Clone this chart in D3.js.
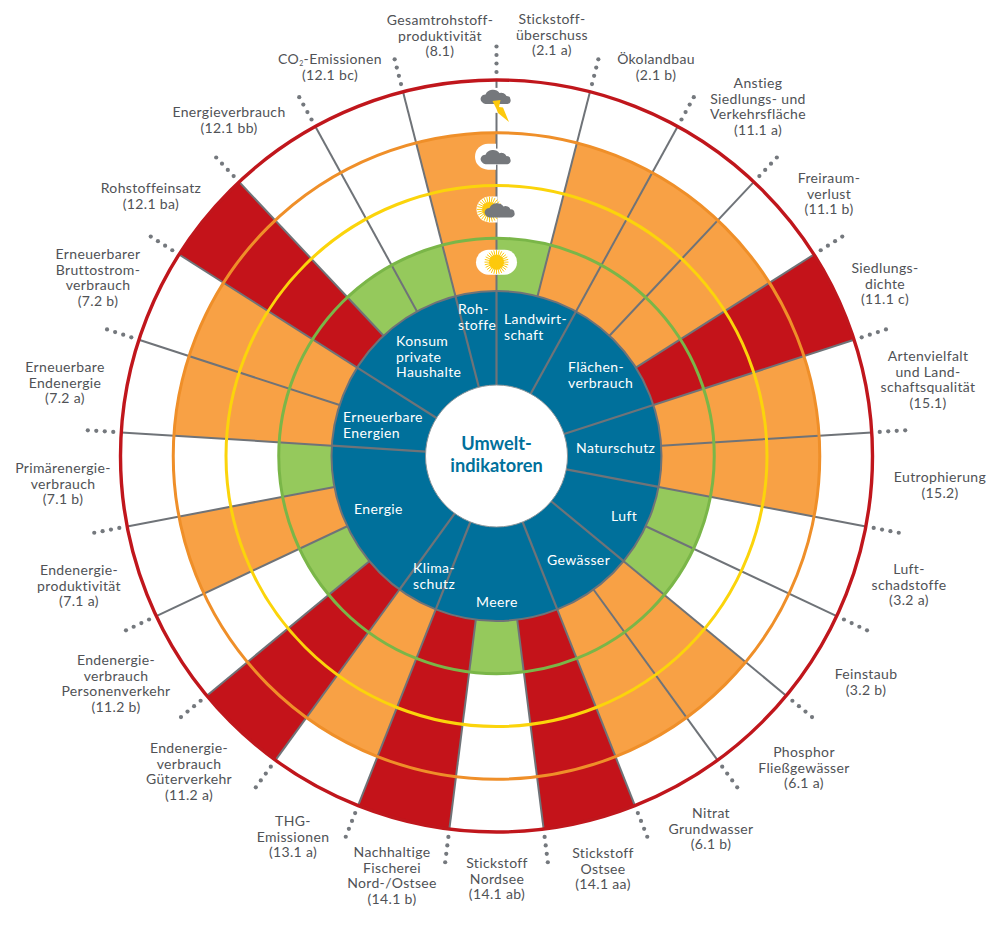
<!DOCTYPE html>
<html lang="de">
<head>
<meta charset="utf-8">
<title>Umweltindikatoren</title>
<script src="https://cdn.jsdelivr.net/npm/d3@7"></script>
<style>
html,body{margin:0;padding:0;background:#fff}
svg{display:block}
text{font-family:Lato,"Noto Sans",sans-serif}
</style>
</head>
<body>
<div id="chart"></div>
<script>
// ---------- data ----------
const indicators = ["8.1","2.1 a","2.1 b","11.1 a","11.1 b","11.1 c","15.1","15.2","3.2 a","3.2 b","6.1 a","6.1 b","14.1 aa","14.1 ab","14.1 b","13.1 a","11.2 a","11.2 b","7.1 a","7.1 b","7.2 a","7.2 b","12.1 ba","12.1 bb","12.1 bc"];
// weather status: 1 sun, 2 sun+cloud, 3 cloud, 4 thunderstorm
const statuses   = [3,1,3,3,3,4,3,3,1,1,3,3,4,1,4,3,4,1,3,1,3,3,4,1,1];
const indicatorLabels = [
  ["Gesamtrohstoff-","produktivität","(8.1)"],
  ["Stickstoff-","überschuss","(2.1 a)"],
  ["Ökolandbau","(2.1 b)"],
  ["Anstieg","Siedlungs- und","Verkehrsfläche","(11.1 a)"],
  ["Freiraum-","verlust","(11.1 b)"],
  ["Siedlungs-","dichte","(11.1 c)"],
  ["Artenvielfalt","und Land-","schaftsqualität","(15.1)"],
  ["Eutrophierung","(15.2)"],
  ["Luft-","schadstoffe","(3.2 a)"],
  ["Feinstaub","(3.2 b)"],
  ["Phosphor","Fließgewässer","(6.1 a)"],
  ["Nitrat","Grundwasser","(6.1 b)"],
  ["Stickstoff","Ostsee","(14.1 aa)"],
  ["Stickstoff","Nordsee","(14.1 ab)"],
  ["Nachhaltige","Fischerei","Nord-/Ostsee","(14.1 b)"],
  ["THG-","Emissionen","(13.1 a)"],
  ["Endenergie-","verbrauch","Güterverkehr","(11.2 a)"],
  ["Endenergie-","verbrauch","Personenverkehr","(11.2 b)"],
  ["Endenergie-","produktivität","(7.1 a)"],
  ["Primärenergie-","verbrauch","(7.1 b)"],
  ["Erneuerbare","Endenergie","(7.2 a)"],
  ["Erneuerbarer","Bruttostrom-","verbrauch","(7.2 b)"],
  ["Rohstoffeinsatz","(12.1 ba)"],
  ["Energieverbrauch","(12.1 bb)"],
  ["CO₂-Emissionen","(12.1 bc)"]
];
const groups      = ["Rohstoffe","Landwirtschaft","Flächenverbrauch","Naturschutz","Luft","Gewässer","Meere","Klimaschutz","Energie","Erneuerbare Energien","Konsum private Haushalte"];
const groupSizes  = [1,2,3,2,2,2,3,1,4,2,3];
const groupLabels = [["Roh-","stoffe"],["Landwirt-","schaft"],["Flächen-","verbrauch"],["Naturschutz"],["Luft"],["Gewässer"],["Meere"],["Klima-","schutz"],["Energie"],["Erneuerbare","Energien"],["Konsum","private","Haushalte"]];
const centerLabel = ["Umwelt-","indikatoren"];

// ---------- layout (text placement only) ----------
const W = 993, H = 930, CX = 496.5, CY = 456;
const labelLayout = [[440,20],[552,19],[656,59],[758,83],[829,178],[885,268],[928,356],[940,477],[909,569],[866,674],[804,752],[711,813],[603,853],[497,863],[392,852],[293,821],[189,748],[116,660],[79,570],[63,468],[65,367],[98,254],[151,188],[229,112],[330,59]];
const groupLayout = [[458,309],[504,319],[568,367],[576,448],[611,516],[547,560],[476,602],[413,568],[354,509],[343,417],[396,341]];
const colors = {1:"#95c95c",2:"#fdd50a",3:"#f8a145",4:"#c4131a"};
const ringColors = {1:"#7ab648",2:"#fbd40b",3:"#ef8f29",4:"#c0161c"};
const gray = "#6f7378", iconGray = "#75787c", sunYellow = "#fdc90c", blue = "#00709b";

const svg = d3.select("#chart").append("svg").attr("width",W).attr("height",H).attr("viewBox",[0,0,W,H]);
const g = svg.append("g").attr("transform",`translate(${CX},${CY})`);

const step = 2*Math.PI/indicators.length;
const angle = d3.scaleBand().domain(indicators).range([-step, 2*Math.PI-step]).padding(0);
const radius = d3.scaleLinear().domain([0,4]).range([165,376]);
const R0 = 71;
const pol = (a,r)=>[r*Math.sin(a), -r*Math.cos(a)];

// wedges
const arc = d3.arc();
g.append("g").selectAll("path").data(indicators).join("path")
  .attr("d",(d,i)=>arc({innerRadius:radius(0),outerRadius:radius(statuses[i]),startAngle:angle(d),endAngle:angle(d)+angle.bandwidth()}))
  .attr("fill",(d,i)=>colors[statuses[i]]);

// blue hub
g.append("circle").attr("r",radius(0)).attr("fill",blue).attr("stroke",gray).attr("stroke-width",2);

// spokes between indicators
g.append("g").selectAll("line").data(indicators).join("line")
  .attr("x1",d=>pol(angle(d),radius(0))[0]).attr("y1",d=>pol(angle(d),radius(0))[1])
  .attr("x2",d=>pol(angle(d),radius(4))[0]).attr("y2",d=>pol(angle(d),radius(4))[1])
  .attr("stroke",gray).attr("stroke-width",2);

// spokes between groups
const cum = d3.cumsum(groupSizes);
const groupStart = groups.map((d,i)=> i===0 ? 0 : cum[i-1]);
g.append("g").selectAll("line").data(groupStart).join("line")
  .attr("x1",d=>pol(angle(indicators[d]),R0)[0]).attr("y1",d=>pol(angle(indicators[d]),R0)[1])
  .attr("x2",d=>pol(angle(indicators[d]),radius(0))[0]).attr("y2",d=>pol(angle(indicators[d]),radius(0))[1])
  .attr("stroke",gray).attr("stroke-width",2.2);

// centre
g.append("circle").attr("r",R0).attr("fill","#fff").attr("stroke","#8a9499").attr("stroke-width",1);

// rings
g.append("g").selectAll("circle").data([1,2,3,4]).join("circle")
  .attr("r",d=>radius(d)).attr("fill","none").attr("stroke",d=>ringColors[d]).attr("stroke-width",d=>d===4?3.4:3);

// dots
const dotRadii = [384,392.5,401,409.5];
g.append("g").selectAll("g").data(indicators).join("g").selectAll("circle")
  .data(d=>dotRadii.map(r=>pol(angle(d),r))).join("circle")
  .attr("cx",d=>d[0]).attr("cy",d=>d[1]).attr("r",2.1).attr("fill","#74787d");

// weather icons on the zero spoke
const icons = g.append("g");
const cloud = (sel,x,y,s=1)=>{
  const c = sel.append("g").attr("transform",`translate(${x},${y}) scale(${s})`).attr("fill",iconGray);
  c.append("path").attr("d","M-14,3 a5,4.5 0 0 1 3,-8 a8,7.5 0 0 1 14,-1.5 a5.5,5 0 0 1 7,3 a3.8,3.8 0 0 1 4,3.5 a3.5,3.5 0 0 1 -3,4.5 h-22 a3.8,3.8 0 0 1 -3,-1.5 z");
};
const sun = (sel,x,y,r,rays=r*1.5)=>{
  const s = sel.append("g").attr("transform",`translate(${x},${y})`);
  s.append("circle").attr("r",r).attr("fill",sunYellow);
  s.selectAll("line").data(d3.range(28)).join("line")
    .attr("x1",d=>pol(d/28*2*Math.PI,r*0.9)[0]).attr("y1",d=>pol(d/28*2*Math.PI,r*0.9)[1])
    .attr("x2",d=>pol(d/28*2*Math.PI,rays)[0]).attr("y2",d=>pol(d/28*2*Math.PI,rays)[1])
    .attr("stroke",sunYellow).attr("stroke-width",1);
};
const mid = l => -(radius(l-0.5)+2.5);
// sun
icons.append("rect").attr("x",-20.5).attr("y",mid(1)-12.5).attr("width",41).attr("height",25).attr("rx",12.5).attr("fill","#fff");
sun(icons,0,mid(1),7.5,12);
// sun + cloud
icons.append("path").attr("d",`M1,${mid(2)-13} h-8 a13,13 0 0 0 0,26 h8 z`).attr("fill","#fff");
sun(icons,-7,mid(2),7.5,12.5);
cloud(icons,4,mid(2)+3.5);
// cloud
icons.append("path").attr("d",`M-0.5,${mid(3)-13} h-8 a13,13 0 0 0 0,26 h8 z`).attr("fill","#fff");
icons.append("rect").attr("x",-1.5).attr("y",mid(3)-8).attr("width",3).attr("height",16).attr("fill","#fff");
cloud(icons,0,mid(3)+3);
// storm
const sY = mid(4);
icons.append("rect").attr("x",-1.5).attr("y",sY-16).attr("width",3).attr("height",25).attr("fill","#fff");
cloud(icons,0,sY-4.4);
icons.append("path").attr("d",`M-4,${sY-3} L4,${sY-4} L2.5,${sY+3} L6.5,${sY+3.7} L12.5,${sY+18} L1.5,${sY+9} L0,${sY+5} z`).attr("fill",sunYellow);

// text
const lineH = 15.6;
const text = svg.append("g");
indicatorLabels.forEach((lines,i)=>{
  const [x,y] = labelLayout[i];
  lines.forEach((ln,j)=>{
    const t = text.append("text").attr("x",x).attr("y",y+j*lineH).attr("dy","0.35em")
      .attr("text-anchor","middle").attr("font-size",14).attr("letter-spacing",0.35).attr("fill","#505256");
    if (ln.includes("₂")) {
      const [a,b] = ln.split("₂");
      t.append("tspan").text(a);
      t.append("tspan").attr("dy",2).attr("font-size",7).text("2");
      t.append("tspan").attr("dy",-2).text(b);
    } else t.text(ln);
  });
});
groupLabels.forEach((lines,i)=>{
  const [x,y] = groupLayout[i];
  lines.forEach((ln,j)=>{
    text.append("text").attr("x",x).attr("y",y+j*lineH).attr("dy","0.35em")
      .attr("text-anchor","start").attr("font-size",14).attr("letter-spacing",0.4).attr("fill","#fff").text(ln);
  });
});
centerLabel.forEach((ln,j)=>{
  text.append("text").attr("x",CX).attr("y",444+j*22).attr("dy","0.35em")
    .attr("text-anchor","middle").attr("font-size",18.2).attr("font-weight",700).attr("fill",blue).text(ln);
});
</script>
</body>
</html>
